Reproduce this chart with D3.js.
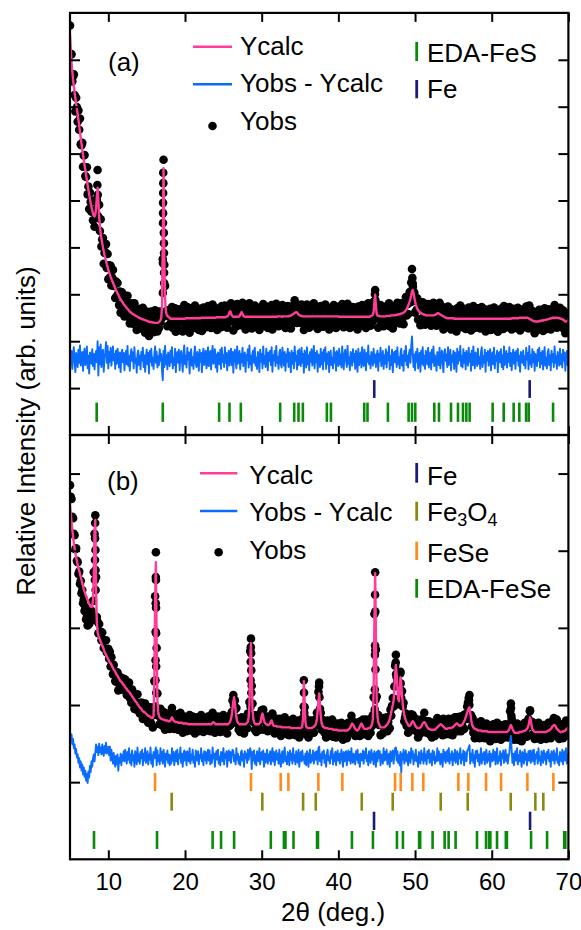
<!DOCTYPE html>
<html>
<head>
<meta charset="utf-8">
<script src="https://cdn.jsdelivr.net/npm/d3@7"></script>
<style>
  body { margin: 0; background: #fff; }
  svg { display: block; }
  text { font-family: "Liberation Sans", Arial, sans-serif; fill: #000; }
</style>
</head>
<body>
<svg id="chart" width="581" height="930"></svg>
<script>
// ---- scan grid (2θ, degrees) ----
const scanStart = 5, scanStep = 0.1;
const xTicks = [10, 20, 30, 40, 50, 60, 70];
const yTicksA = [100, 200, 300, 400, 500, 600, 700, 800];
const yTicksB = [100, 200, 300, 400, 500];

// ---- panel (a): calculated profile, one value per scan step ----
const ycalcA = [853,
822,795,775,757,744,731,718,706,695,685,
672,659,646,634,621,608,597,586,575,565,
554,544,533,523,513,503,494,486,479,473,
468,466,470,484,508,527,500,466,446,429,
419,409,400,392,384,377,371,364,358,352,
347,342,337,333,329,325,321,317,313,309,
306,302,299,295,292,289,287,284,282,279,
277,275,273,271,269,267,265,263,262,260,
259,258,257,256,255,254,253,252,251,250,
249,249,248,247,247,246,245,245,244,243,
243,242,242,241,241,241,240,240,240,239,
239,239,239,239,240,241,242,245,250,275,
420,569,380,290,265,257,254,252,251,250,
248,248,248,248,248,248,248,248,248,248,
248,248,248,248,248,248,248,248,248,248,
249,249,249,249,249,249,249,249,249,249,
249,249,249,249,249,249,249,249,249,249,
250,250,250,250,250,250,250,250,250,250,
250,250,250,250,250,250,250,250,250,250,
251,251,251,251,251,251,251,251,251,251,
251,251,251,252,253,254,257,262,264,259,
255,253,252,252,252,252,252,252,252,252,
253,256,260,262,258,254,253,252,252,252,
252,252,252,252,252,252,252,252,252,252,
252,252,252,252,252,252,252,252,252,252,
252,252,252,252,252,252,252,252,252,252,
252,252,252,252,252,252,252,252,252,252,
253,253,253,253,253,253,253,253,253,253,
253,253,253,253,253,254,254,255,256,257,
258,259,260,261,262,261,259,257,256,255,
254,254,253,253,253,253,253,253,253,253,
253,253,253,253,253,253,253,253,253,253,
253,253,253,253,253,253,253,253,253,253,
253,253,253,253,253,253,253,253,253,253,
253,253,253,253,253,253,253,253,253,253,
252,252,252,252,252,252,252,252,252,252,
252,252,252,252,252,252,252,252,252,252,
252,252,252,252,252,252,252,252,252,252,
252,252,252,252,252,252,252,252,252,252,
252,253,254,255,257,262,285,299,275,258,
255,254,254,253,253,253,253,253,253,253,
253,253,254,254,254,254,254,255,255,255,
255,255,255,256,256,256,257,257,257,258,
258,259,259,260,261,262,264,266,268,272,
276,280,285,291,298,306,309,303,294,285,
278,273,269,266,264,262,261,260,259,258,
257,257,256,256,255,255,255,255,255,255,
255,255,255,255,256,256,257,258,259,260,
259,258,257,256,255,254,253,252,251,250,
250,249,249,249,249,249,249,249,249,249,
248,248,248,248,248,248,248,248,248,248,
248,248,248,248,248,248,248,248,248,248,
248,248,248,248,248,248,248,248,248,248,
248,248,248,248,248,248,248,248,248,248,
248,248,248,248,248,248,248,248,248,248,
248,248,248,248,248,248,248,248,248,248,
248,248,248,248,248,248,248,248,248,248,
248,248,248,248,248,249,249,249,249,249,
249,249,249,249,249,250,250,250,250,250,
250,250,250,250,250,250,250,249,248,247,
246,245,244,243,243,242,242,242,242,242,
242,243,243,243,244,244,244,245,245,245,
246,246,247,247,248,248,249,249,250,250,
250,250,250,250,250,250,249,249,249,248,
248,247,246,245,243,242,242,243,244,246];

// ---- panel (a): Yobs - Ycalc, one value per scan step ----
const residA = [20,
-11,17,-21,8,25,-6,-28,13,4,-17,
20,-8,29,-14,-3,15,-25,10,22,-13,
-4,27,-20,7,-31,14,3,-10,21,-15,
11,-22,6,17,-7,38,-35,25,-11,31,
-17,8,20,-27,4,13,36,-8,28,-20,
15,-6,24,-14,7,27,-3,11,-21,18,
-10,22,3,-18,14,-28,8,20,-7,13,
-24,4,17,-11,28,-15,6,-25,10,21,
-4,14,-20,25,-8,1,-29,11,18,-13,
7,-22,15,-3,24,-17,8,-27,4,20,
-11,13,-31,17,-6,22,-14,3,-21,10,
27,-8,15,-18,6,-13,21,-4,11,-25,
-45,18,-17,28,-11,8,-22,14,4,-15,
18,-7,25,-20,3,-13,22,-28,10,15,
-8,20,-24,6,17,-4,-27,13,29,-11,
7,-18,24,-1,14,-31,8,21,-14,4,
-21,11,27,-10,-17,15,3,-25,20,-6,
13,-28,8,22,-13,1,18,-20,-7,25,
-15,6,17,-22,11,28,-10,-3,21,-18,
10,-27,14,4,-11,20,-21,24,-6,8,
-17,25,-8,13,-24,3,18,-14,7,22,
-13,15,-29,10,20,-4,-20,27,-10,6,
17,-22,11,-7,24,-15,4,14,-27,8,
-3,21,-18,29,-11,7,-25,13,18,-8,
24,-14,3,-21,15,10,-28,20,-6,11,
-20,27,-10,6,-17,22,1,-24,14,-4,
18,-13,25,-27,8,-3,17,-15,28,-8,
4,-21,13,20,-11,-18,24,7,-14,15,
-25,10,-6,22,-17,14,3,-28,18,-10,
13,-20,27,-4,7,-22,17,-13,21,-1,
-15,24,-8,11,-29,18,6,-18,25,-11,
8,-24,15,-6,21,-14,-3,28,-20,13,
-7,17,-27,10,4,-17,22,-11,14,-22,
20,-4,25,-21,11,-10,15,-28,7,18,
-13,3,-20,24,-8,14,-25,17,6,-15,
22,-11,10,-18,27,-7,-22,13,20,-3,
-17,28,-10,4,-24,15,8,-14,21,-6,
11,-21,18,-1,-27,22,-13,7,14,-18,
25,-8,-15,20,3,-24,13,-6,29,-11,
6,-20,15,10,-14,22,-8,10,-17,7,
18,-25,11,-4,24,-15,3,17,-21,8,
-10,21,-18,14,-3,27,-22,6,-13,20,
-28,10,15,-7,18,-17,25,-11,4,-20,
13,22,-14,8,-25,17,-4,28,-13,7,
-18,11,20,-8,27,48,14,-17,10,-24,
15,-6,22,-20,4,13,-27,18,-10,25,
-14,7,-21,17,10,-11,24,-18,3,14,
-22,20,-7,27,-15,8,-3,-25,15,11,
-13,24,-20,6,18,-8,-28,14,21,-4,
10,-17,25,-13,1,20,-24,8,-6,17,
-21,14,4,-27,22,-10,15,-3,28,-15,
7,-18,21,-8,13,-22,17,3,-14,24,
-6,11,-25,18,-13,27,-4,-20,14,8,
-15,22,-10,4,-21,15,25,-17,6,-8,
20,-27,13,-3,17,-14,10,21,-24,1,
14,-11,24,-20,7,-4,18,-28,11,15,
-7,21,-17,8,-22,27,-13,3,17,-18,
11,-6,25,-15,13,-24,4,20,-10,14,
-21,17,-3,22,-14,7,-27,15,10,-8,
18,-13,6,-20,24,-1,13,-22,28,-11,
8,-17,21,-7,15,-25,11,4,-15,20,
-4,24,-18,13,-10,17,-22,7,25,-14,
3,-20,14,21,-13,8,-24,18,-6,11,
-17,27,-8,6,-21,15,1,-14,22,-11,
10,-18,20,-4,14,-25,7,17,-13,8];

// ---- panel (a): extra observed points on steep peak flanks [2θ, intensity] ----
const flankObsA = [
  [8.57, 533], [8.62, 512], [8.64, 490], [8.55, 469],
  [17.16, 559], [17.17, 537], [17.15, 516], [17.14, 495], [17.14, 473], [17.13, 452],
  [17.24, 431], [17.25, 409], [17.26, 388], [17.12, 367], [17.27, 346], [17.28, 324], [17.11, 303],
  [44.77, 300], [44.83, 288],
  [49.65, 335], [49.72, 316], [49.62, 299], [49.75, 290]
];

// ---- panel (b): calculated profile ----
const ycalcB = [459,
448,437,427,418,410,403,397,392,387,381,
377,374,370,366,362,358,354,350,347,344,
341,339,336,333,331,329,328,327,328,336,
368,427,440,349,307,294,290,287,285,282,
280,277,275,272,269,267,265,263,261,259,
257,255,254,252,250,248,246,245,243,241,
239,238,236,234,232,231,230,229,227,226,
225,223,222,221,219,218,217,216,214,213,
211,210,208,207,205,204,203,201,200,198,
197,196,195,193,192,191,191,190,189,188,
187,186,186,185,184,184,183,183,186,232,
336,385,284,206,191,186,184,183,182,182,
181,181,181,180,180,180,180,179,179,179,
180,182,184,182,180,179,178,178,178,178,
177,177,177,177,177,177,176,176,176,176,
176,176,176,175,175,175,175,175,175,175,
175,175,175,175,175,175,175,175,175,175,
175,175,175,175,175,175,175,175,175,175,
175,175,175,175,176,177,178,177,176,175,
175,175,175,175,175,175,175,175,175,175,
175,175,175,175,175,175,176,177,179,182,
187,196,205,210,203,192,184,179,177,176,
175,175,175,175,175,175,175,175,175,176,
177,179,184,200,258,280,240,195,182,178,
176,175,175,175,175,175,176,177,180,186,
189,185,180,177,176,175,175,174,174,175,
176,179,180,177,174,173,173,173,173,172,
172,172,172,172,172,171,171,171,171,171,
171,171,171,171,171,171,171,170,170,170,
170,170,170,170,170,170,170,170,170,170,
170,171,173,185,231,205,178,172,171,170,
170,170,170,170,170,171,171,172,173,174,
177,182,193,205,215,200,186,178,174,172,
171,171,170,170,170,170,169,169,169,169,
169,169,168,168,168,168,168,168,167,167,
167,167,167,167,167,167,167,167,167,167,
167,167,168,169,170,172,174,176,175,173,
171,169,168,167,167,168,170,172,174,176,
175,172,170,169,169,169,169,169,170,170,
170,171,173,176,182,219,310,371,284,204,
185,178,175,173,171,171,171,171,171,171,
172,173,174,175,177,179,182,186,191,196,
200,206,220,239,252,240,222,208,205,216,
236,228,213,201,193,187,183,180,178,176,
174,173,173,174,176,178,179,178,176,174,
172,171,170,170,170,170,171,172,174,176,
177,178,177,175,173,171,170,169,169,168,
168,168,168,168,168,168,169,170,171,172,
173,174,175,175,174,173,172,171,170,169,
169,169,170,170,170,170,170,171,171,172,
173,174,175,176,176,175,174,173,173,174,
174,175,177,179,181,184,187,190,193,196,
197,190,182,176,173,171,170,169,169,168,
168,167,167,167,167,167,166,166,166,166,
166,166,166,166,165,165,165,165,165,165,
165,165,165,165,165,165,165,165,165,165,
165,165,165,165,165,165,165,165,165,165,
166,167,169,172,174,172,169,167,165,164,
164,164,164,164,164,165,165,165,165,166,
166,166,167,167,168,169,171,174,179,184,
180,173,169,167,166,165,165,165,165,165,
165,165,165,165,165,165,165,165,165,165,
165,166,166,167,167,168,169,170,172,173,
174,174,173,171,169,168,167,166,165,165,
165,165,166,166,166,167,168,169,170,171];

// ---- panel (b): Yobs - Ycalc ----
const residB = [26,
22,30,17,24,12,17,5,11,0,4,
-7,-1,-13,-5,-17,-9,-22,-13,-25,-17,
-30,-21,-33,-18,-26,-11,-19,-5,-12,-1,
4,-5,6,17,7,14,3,18,7,13,
4,17,9,2,15,6,19,5,11,14,
3,14,-4,10,1,-8,6,-5,-12,2,
-9,4,-17,-1,-7,5,-10,3,-4,8,
-5,10,1,-8,7,-3,12,-7,4,-10,
9,-4,3,-12,8,0,-9,13,-5,4,
-8,7,-1,10,-10,5,-4,12,-7,1,
8,-9,4,-3,13,-8,3,-12,7,-1,
5,13,-10,9,-5,3,-9,12,-4,7,
-8,10,1,-12,5,-3,9,-7,4,-10,
3,-8,12,-4,7,-10,1,8,-5,10,
-9,4,-1,13,-7,5,-12,3,9,-4,
7,-10,8,0,-5,12,-8,4,-3,10,
-7,1,-12,9,5,-4,8,-9,3,-1,
12,-5,4,-10,8,-3,7,-8,1,10,
-4,9,-9,3,-7,13,-1,5,-12,4,
8,-3,10,-8,1,-10,7,4,-5,12,
-9,5,-1,8,-12,3,9,-4,7,-7,
4,10,8,-5,3,-9,12,-3,5,-8,
1,-10,7,9,-4,4,-12,8,-1,5,
-7,10,-3,4,12,6,-15,7,-4,9,
-8,3,-10,8,0,-5,12,-9,4,7,
-3,9,-12,5,-7,1,10,-8,4,-4,
8,-9,3,12,-5,7,-10,1,9,-3,
5,-8,10,-4,-12,4,8,-7,3,13,
-5,1,-9,7,4,-10,9,-3,5,-8,
12,-4,3,-9,8,-1,-7,10,-12,4,
7,-5,9,-3,1,-8,5,-10,8,3,
-12,4,10,-7,3,-4,9,-8,1,7,
-3,8,-9,12,14,-5,4,-10,7,-1,
9,-7,3,-12,5,10,-4,1,-8,8,
-1,12,-9,4,-5,7,-10,3,9,-4,
5,-8,1,10,-3,-12,7,-5,4,8,
-10,3,9,-4,7,-8,12,-1,-7,5,
1,-9,8,-3,10,-7,4,-12,5,3,
-4,9,-8,7,-1,12,-5,3,-10,8,
4,-7,10,-3,5,-9,8,1,-12,7,
-5,9,-1,8,-10,4,3,-8,12,-4,
7,-3,10,-9,1,5,-12,8,-5,3,
9,-8,4,12,13,-4,8,-7,3,-10,
7,-19,5,-3,10,-8,1,9,-5,4,
-10,7,3,-7,12,-1,8,-9,4,-4,
10,-5,1,-12,7,3,-8,9,-3,5,
-8,12,-4,4,-9,8,-1,10,-7,3,
5,-10,9,-3,7,-8,1,-5,12,-4,
8,-1,-9,5,3,-12,10,-4,7,-7,
1,9,-5,12,-8,4,-3,8,-10,5,
-4,10,-7,3,8,-9,5,-1,12,-8,
4,-3,9,-10,7,1,-5,8,10,13,
16,-8,5,-4,10,-7,3,-12,8,-1,
9,-5,4,-10,1,12,-8,5,-3,7,
-9,3,10,-7,4,-4,8,-12,5,1,
-5,10,-3,7,-9,4,12,-8,1,-4,
8,-10,5,-1,9,-7,3,10,-5,4,
-8,1,6,20,28,10,-7,5,-10,3,
8,-4,12,-9,3,-5,9,-1,-12,7,
4,-8,10,-3,5,-10,1,8,-4,9,
-7,3,9,-5,10,-9,4,-1,7,-8,
12,-4,1,-10,8,3,-7,9,-3,5,
-9,7,-1,10,-5,4,-12,8,3,-4,
9,-8,5,-3,12,-7,1,-10,7,4,
-5,10,-9,3,8,-4,12,-8,1,5];

// ---- panel (b): extra observed points on steep peak flanks [2θ, intensity] ----
const flankObsB = [
  [8.28, 436], [8.27, 416], [8.32, 401], [8.26, 388], [8.33, 375], [8.25, 362], [8.34, 349],
  [16.19, 366], [16.21, 362], [16.18, 332], [16.22, 326], [16.17, 295], [16.23, 293],
  [16.16, 258], [16.24, 250], [16.15, 232], [16.25, 216], [16.14, 198],
  [26.38, 200], [26.44, 193],
  [28.58, 275], [28.62, 267], [28.57, 256], [28.64, 245], [28.56, 232], [28.65, 216], [28.55, 198],
  [35.52, 216], [35.48, 198], [35.56, 190],
  [37.47, 224], [37.53, 210],
  [44.79, 343], [44.82, 321], [44.78, 277], [44.83, 271], [44.77, 265], [44.84, 246],
  [44.76, 220], [44.86, 207], [44.75, 194],
  [47.48, 255], [47.53, 240], [48.08, 241], [48.12, 228],
  [57.03, 206], [57.08, 200],
  [62.52, 196], [62.56, 186],
  [64.98, 192]
];

// ---- reflection positions (2θ) ----
const edaFeSPeaks = [8.48, 17.1, 24.45, 25.8, 27.28, 32.41, 34.24, 34.8, 35.37, 38.5, 39.03,
  43.37, 43.8, 46.46, 49.16, 49.6, 50.03, 52.51, 53.12, 54.69, 55.6, 56.25, 56.69, 57.12,
  60.12, 61.56, 62.86, 63.6, 64.48, 64.82, 68.0];
const fePeaksA = [44.68, 64.95];
const fePeaksB = [44.65, 65.0];
const fe3o4Peaks = [18.26, 30.08, 35.4, 37.05, 43.05, 47.09, 53.35, 56.87, 62.48, 65.69, 66.73];
const feSePeaks = [16.09, 28.6, 32.48, 33.48, 37.39, 40.52, 47.39, 48.13, 49.65, 51.08,
  55.65, 56.95, 59.26, 61.22, 64.65, 68.04];
const edaFeSePeaks = [8.13, 16.35, 23.6, 24.7, 26.4, 31.19, 32.9, 33.1, 34.15, 37.22, 37.34,
  41.77, 44.51, 47.64, 48.42, 50.53, 50.67, 52.29, 53.86, 54.38, 55.29, 58.08, 59.26, 59.66,
  59.82, 60.69, 61.84, 61.98, 65.13, 67.22, 69.45, 69.6];

[ycalcA, residA, ycalcB, residB].forEach((arr, k) => {
  if (arr.length !== 651) throw new Error('series ' + k + ' has ' + arr.length + ' values');
});

// ---- colours ----
const PINK = '#ff3d98', BLUE = '#0a6bff', GREEN = '#0a8a0a', NAVY = '#1c1c78',
      OLIVE = '#8a8a12', ORANGE = '#ff8c1a';

// ---- layout ----
const left = 70, right = 568.4;
const topA = 12.9, mid = 435, bottomB = 859.3;

const x = d3.scaleLinear().domain([5, 70]).range([left, right]);
const yA = d3.scaleLinear().domain([0, 900]).range([mid, topA]);
const yB = d3.scaleLinear().domain([0, 550]).range([bottomB, mid]);

const svg = d3.select('#chart');
const defs = svg.append('defs');
[['clipA', topA, mid], ['clipB', mid, bottomB]].forEach(([id, t, b]) => {
  defs.append('clipPath').attr('id', id).append('rect')
    .attr('x', left).attr('y', t).attr('width', right - left).attr('height', b - t);
});

// pattern: observed dots, difference curve, calculated curve
function drawPattern(ycalc, resid, flank, y, diffOffset, clipId) {
  const rows = ycalc.map((c, i) => ({
    a: scanStart + i * scanStep,
    calc: c,
    obs: c + resid[i],
    diff: resid[i] + diffOffset
  }));
  const dots = rows.map(d => [d.a, d.obs]).concat(flank);
  const g = svg.append('g').attr('clip-path', `url(#${clipId})`);
  g.append('g').selectAll('circle').data(dots).join('circle')
    .attr('cx', d => x(d[0])).attr('cy', d => y(d[1])).attr('r', 4.3).attr('fill', '#000');
  g.append('path').datum(rows)
    .attr('d', d3.line().x(d => x(d.a)).y(d => y(d.diff)))
    .attr('fill', 'none').attr('stroke', BLUE).attr('stroke-width', 1.9).attr('stroke-linejoin', 'round');
  g.append('path').datum(rows)
    .attr('d', d3.line().x(d => x(d.a)).y(d => y(d.calc)))
    .attr('fill', 'none').attr('stroke', PINK).attr('stroke-width', 2.4).attr('stroke-linejoin', 'round');
}

drawPattern(ycalcA, residA, flankObsA, yA, 162, 'clipA');
drawPattern(ycalcB, residB, flankObsB, yB, 132, 'clipB');

// reflection markers (row extent in panel units)
function reflectionRow(peaks, y, lo, hi, color) {
  svg.append('g').selectAll('line').data(peaks).join('line')
    .attr('x1', d => x(d)).attr('x2', d => x(d))
    .attr('y1', y(hi)).attr('y2', y(lo))
    .attr('stroke', color).attr('stroke-width', 2.6);
}
reflectionRow(fePeaksA, yA, 79, 117, NAVY);
reflectionRow(edaFeSPeaks, yA, 28, 69, GREEN);
reflectionRow(feSePeaks, yB, 88.5, 112, ORANGE);
reflectionRow(fe3o4Peaks, yB, 63, 86.3, OLIVE);
reflectionRow(fePeaksB, yB, 38, 61.7, NAVY);
reflectionRow(edaFeSePeaks, yB, 13.4, 36.7, GREEN);

// axes: inward ticks on all sides
function styleAxis(g) {
  g.select('.domain').remove();
  g.selectAll('.tick line').attr('stroke', '#000').attr('stroke-width', 2);
}
const noLabel = () => '';
svg.append('g').attr('transform', `translate(0,${topA})`)
  .call(d3.axisTop(x).tickValues(xTicks).tickSize(-9).tickFormat(noLabel)).call(styleAxis);
svg.append('g').attr('transform', `translate(0,${mid})`)
  .call(d3.axisBottom(x).tickValues(xTicks).tickSize(-9).tickFormat(noLabel)).call(styleAxis);
svg.append('g').attr('transform', `translate(0,${mid})`)
  .call(d3.axisTop(x).tickValues(xTicks).tickSize(-9).tickFormat(noLabel)).call(styleAxis);
const xAxisB = svg.append('g').attr('transform', `translate(0,${bottomB})`)
  .call(d3.axisBottom(x).tickValues(xTicks).tickSize(-9).tickPadding(13.5).tickFormat(d3.format('d')))
  .call(styleAxis);
xAxisB.selectAll('.tick text')
  .attr('font-family', '"Liberation Sans", Arial, sans-serif')
  .attr('font-size', 24).attr('fill', '#000');

[[yA, yTicksA], [yB, yTicksB]].forEach(([y, vals]) => {
  svg.append('g').attr('transform', `translate(${left},0)`)
    .call(d3.axisLeft(y).tickValues(vals).tickSize(-10).tickFormat(noLabel)).call(styleAxis);
  svg.append('g').attr('transform', `translate(${right},0)`)
    .call(d3.axisRight(y).tickValues(vals).tickSize(-10).tickFormat(noLabel)).call(styleAxis);
});

// frames
svg.append('rect').attr('x', left).attr('y', topA).attr('width', right - left).attr('height', mid - topA)
  .attr('fill', 'none').attr('stroke', '#000').attr('stroke-width', 2.2);
svg.append('rect').attr('x', left).attr('y', mid).attr('width', right - left).attr('height', bottomB - mid)
  .attr('fill', 'none').attr('stroke', '#000').attr('stroke-width', 2.2);

// axis titles
svg.append('text').attr('x', 281).attr('y', 921).attr('font-size', 26).text('2θ (deg.)');
svg.append('text').attr('transform', 'translate(35,431) rotate(-90)')
  .attr('text-anchor', 'middle').attr('font-size', 26).text('Relative Intensity (arb. units)');

// panel tags
svg.append('text').attr('x', 108).attr('y', 70.5).attr('font-size', 26).text('(a)');
svg.append('text').attr('x', 107).attr('y', 490).attr('font-size', 26).text('(b)');

// legends
function seriesLegend(x0, lineX1, lineX2, rows) {
  const [rc, rd, ro] = rows;
  svg.append('line').attr('x1', lineX1).attr('x2', lineX2).attr('y1', rc.y).attr('y2', rc.y)
    .attr('stroke', PINK).attr('stroke-width', 2.6);
  svg.append('text').attr('x', x0).attr('y', rc.base).attr('font-size', 26).text('Ycalc');
  svg.append('line').attr('x1', lineX1).attr('x2', lineX2).attr('y1', rd.y).attr('y2', rd.y)
    .attr('stroke', BLUE).attr('stroke-width', 2.6);
  svg.append('text').attr('x', x0).attr('y', rd.base).attr('font-size', 26).text('Yobs - Ycalc');
  svg.append('circle').attr('cx', (lineX1 + lineX2) / 2).attr('cy', ro.y).attr('r', 4.3).attr('fill', '#000');
  svg.append('text').attr('x', x0).attr('y', ro.base).attr('font-size', 26).text('Yobs');
}
seriesLegend(240, 193, 232, [{y: 46.7, base: 54.5}, {y: 84.3, base: 92}, {y: 126, base: 130}]);
seriesLegend(249.3, 200, 237.3, [{y: 473.3, base: 483.5}, {y: 511, base: 520.5}, {y: 552.3, base: 558.5}]);

function phaseKey(color, top, bottom, base, label) {
  svg.append('line').attr('x1', 416.7).attr('x2', 416.7).attr('y1', top).attr('y2', bottom)
    .attr('stroke', color).attr('stroke-width', 2.8);
  const t = svg.append('text').attr('x', 427).attr('y', base).attr('font-size', 26);
  let shifted = 0;
  label.forEach(([s, sub]) => {
    const dy = (sub ? 5 : 0) - shifted;
    shifted = sub ? 5 : 0;
    t.append('tspan').attr('font-size', sub ? 18 : 26).attr('dy', dy).text(s);
  });
}
phaseKey(GREEN, 42, 61, 61.5, [['EDA-FeS']]);
phaseKey(NAVY, 80, 98.3, 98.3, [['Fe']]);
phaseKey(NAVY, 463, 482.7, 485, [['Fe']]);
phaseKey(OLIVE, 501.7, 520.7, 521, [['Fe'], ['3', true], ['O'], ['4', true]]);
phaseKey(ORANGE, 541.7, 560, 561.5, [['FeSe']]);
phaseKey(GREEN, 579, 597.7, 598, [['EDA-FeSe']]);
</script>
</body>
</html>
